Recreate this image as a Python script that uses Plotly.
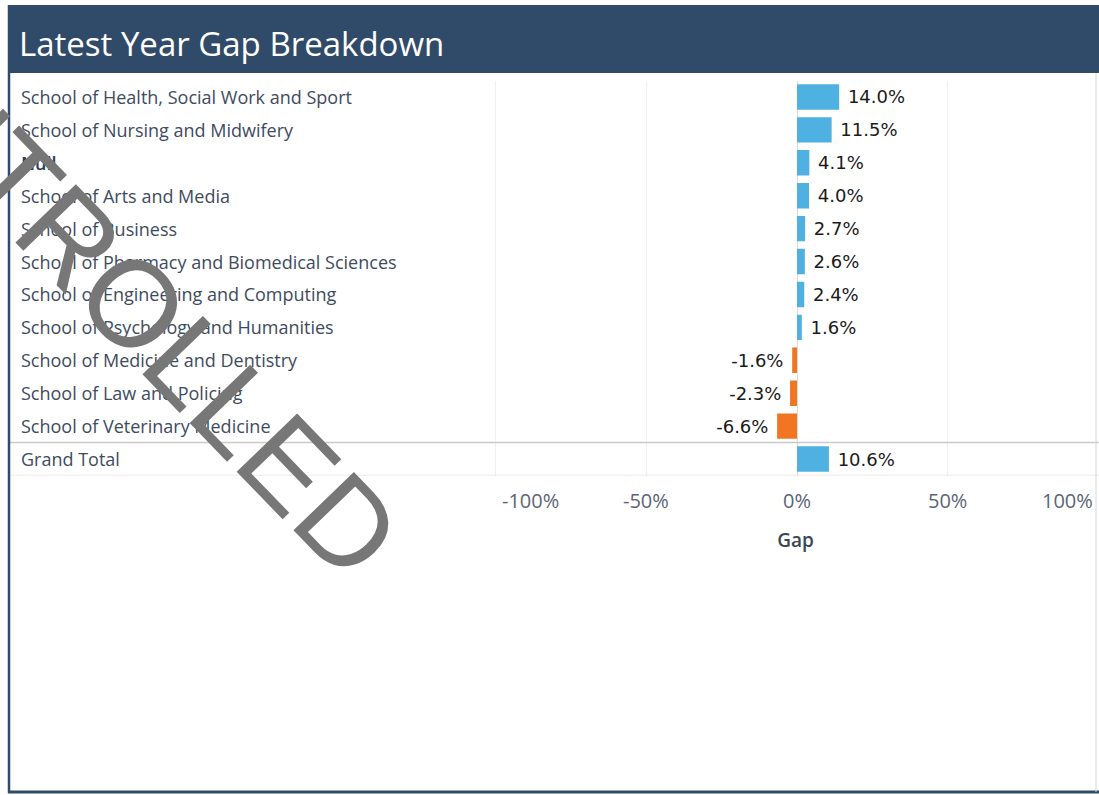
import plotly.graph_objects as go

# ---------------- data ----------------
schools = [
    "School of Health, Social Work and Sport",
    "School of Nursing and Midwifery",
    "Null",
    "School of Arts and Media",
    "School of Business",
    "School of Pharmacy and Biomedical Sciences",
    "School of Engineering and Computing",
    "School of Psychology and Humanities",
    "School of Medicine and Dentistry",
    "School of Law and Policing",
    "School of Veterinary Medicine",
    "Grand Total",
]
gap_pct = [14.0, 11.5, 4.1, 4.0, 2.7, 2.6, 2.4, 1.6, -1.6, -2.3, -6.6, 10.6]
tick_values = [-100, -50, 0, 50, 100]
tick_labels = ["-100%", "-50%", "0%", "50%", "100%"]
title_text = "Latest Year Gap Breakdown"
axis_title = "Gap"
watermark = "UNCONTROLLED"

# ---------------- styling ----------------
W, H = 1099, 795
FONT = "Open Sans"
BLUE = "#4FB1E1"
ORANGE = "#F07622"
NAVY = "#2F4B69"
LABEL_COL = "#3E4B5E"
TICK_COL = "#5B6576"


def px(x):
    return x / W


def py(y):
    return 1 - y / H


colors = [BLUE if v >= 0 else ORANGE for v in gap_pct]
texts = [("\u00a0%.1f%%" % v) if v >= 0 else ("%.1f%%\u00a0" % v) for v in gap_pct]

fig = go.Figure()
fig.add_trace(go.Bar(
    x=gap_pct,
    y=schools,
    orientation="h",
    marker=dict(color=colors, line=dict(width=0)),
    width=0.77,
    text=texts,
    textposition="outside",
    textfont=dict(family="DejaVu Sans", size=18, color="#1A1A1A"),
    cliponaxis=False,
    hoverinfo="skip",
))

annotations = []
# row labels (left aligned)
for s in schools:
    annotations.append(dict(
        x=px(19), xref="paper", y=s, yref="y",
        text=s, showarrow=False, xanchor="left", yanchor="middle",
        font=dict(family=FONT, size=18,
                  color="#2B3D5A" if s == "Null" else LABEL_COL,
                  weight=600 if s == "Null" else 400),
    ))
# x tick labels
for v, t in zip(tick_values, tick_labels):
    if v == tick_values[0]:
        anchor, shift = "left", 4
    elif v == tick_values[-1]:
        anchor, shift = "right", -3
    else:
        anchor, shift = "center", 0
    annotations.append(dict(
        x=v, xref="x", y=py(500), yref="paper", text=t, showarrow=False,
        xanchor=anchor, yanchor="middle", xshift=shift,
        font=dict(family=FONT, size=20, color=TICK_COL),
    ))
# title
annotations.append(dict(
    x=px(17), xref="paper", y=py(44), yref="paper", text=title_text,
    showarrow=False, xanchor="left", yanchor="middle",
    font=dict(family=FONT, size=33, color="white"),
))
# watermark (partly outside the page, as in the reference)
annotations.append(dict(
    x=px(27), xref="paper", y=py(194), yref="paper", text=watermark,
    showarrow=False, xanchor="center", yanchor="middle", textangle=46,
    font=dict(family="Liberation Sans", size=122, color="#777777"),
))

shapes = [
    # title bar
    dict(type="rect", xref="paper", yref="paper", x0=px(8), x1=1, y0=py(73), y1=py(5),
         fillcolor=NAVY, line=dict(width=0), layer="below"),
    # separator before Grand Total
    dict(type="line", xref="paper", yref="y", x0=px(8), x1=1, y0=10.5, y1=10.5,
         line=dict(color="#C9C9C9", width=1.5)),
    # line under Grand Total
    dict(type="line", xref="paper", yref="y", x0=px(8), x1=1, y0=11.5, y1=11.5,
         line=dict(color="#E4E4E4", width=1.5)),
    # frame
    dict(type="line", xref="paper", yref="paper", x0=px(9), x1=px(9), y0=py(793), y1=py(5),
         line=dict(color=NAVY, width=2.5)),
    dict(type="line", xref="paper", yref="paper", x0=px(8), x1=1, y0=py(792), y1=py(792),
         line=dict(color=NAVY, width=3)),
    dict(type="line", xref="paper", yref="paper", x0=px(1096), x1=px(1096), y0=py(792), y1=py(73),
         line=dict(color="#D6D6D6", width=1)),
]

fig.update_layout(
    width=W, height=H,
    margin=dict(l=0, r=0, t=0, b=0),
    paper_bgcolor="white", plot_bgcolor="white",
    showlegend=False,
    xaxis=dict(
        domain=[px(492), 1],
        range=[-101.3, 100.3],
        tickvals=tick_values,
        showticklabels=False,
        showgrid=True, gridcolor="#F0F0F0", gridwidth=1,
        zeroline=True, zerolinecolor="#DADADA", zerolinewidth=1,
        showline=False, ticks="",
        title=dict(text=axis_title, standoff=58,
                   font=dict(family=FONT, size=19, color="#3B4657", weight=600)),
        fixedrange=True,
    ),
    yaxis=dict(
        domain=[py(475.5), py(80.5)],
        categoryorder="array", categoryarray=schools,
        autorange=False, range=[len(schools) - 0.5, -0.5],
        showticklabels=False, showgrid=False, zeroline=False, ticks="",
        fixedrange=True,
    ),
    annotations=annotations,
    shapes=shapes,
)

fig.write_html("out.html")
